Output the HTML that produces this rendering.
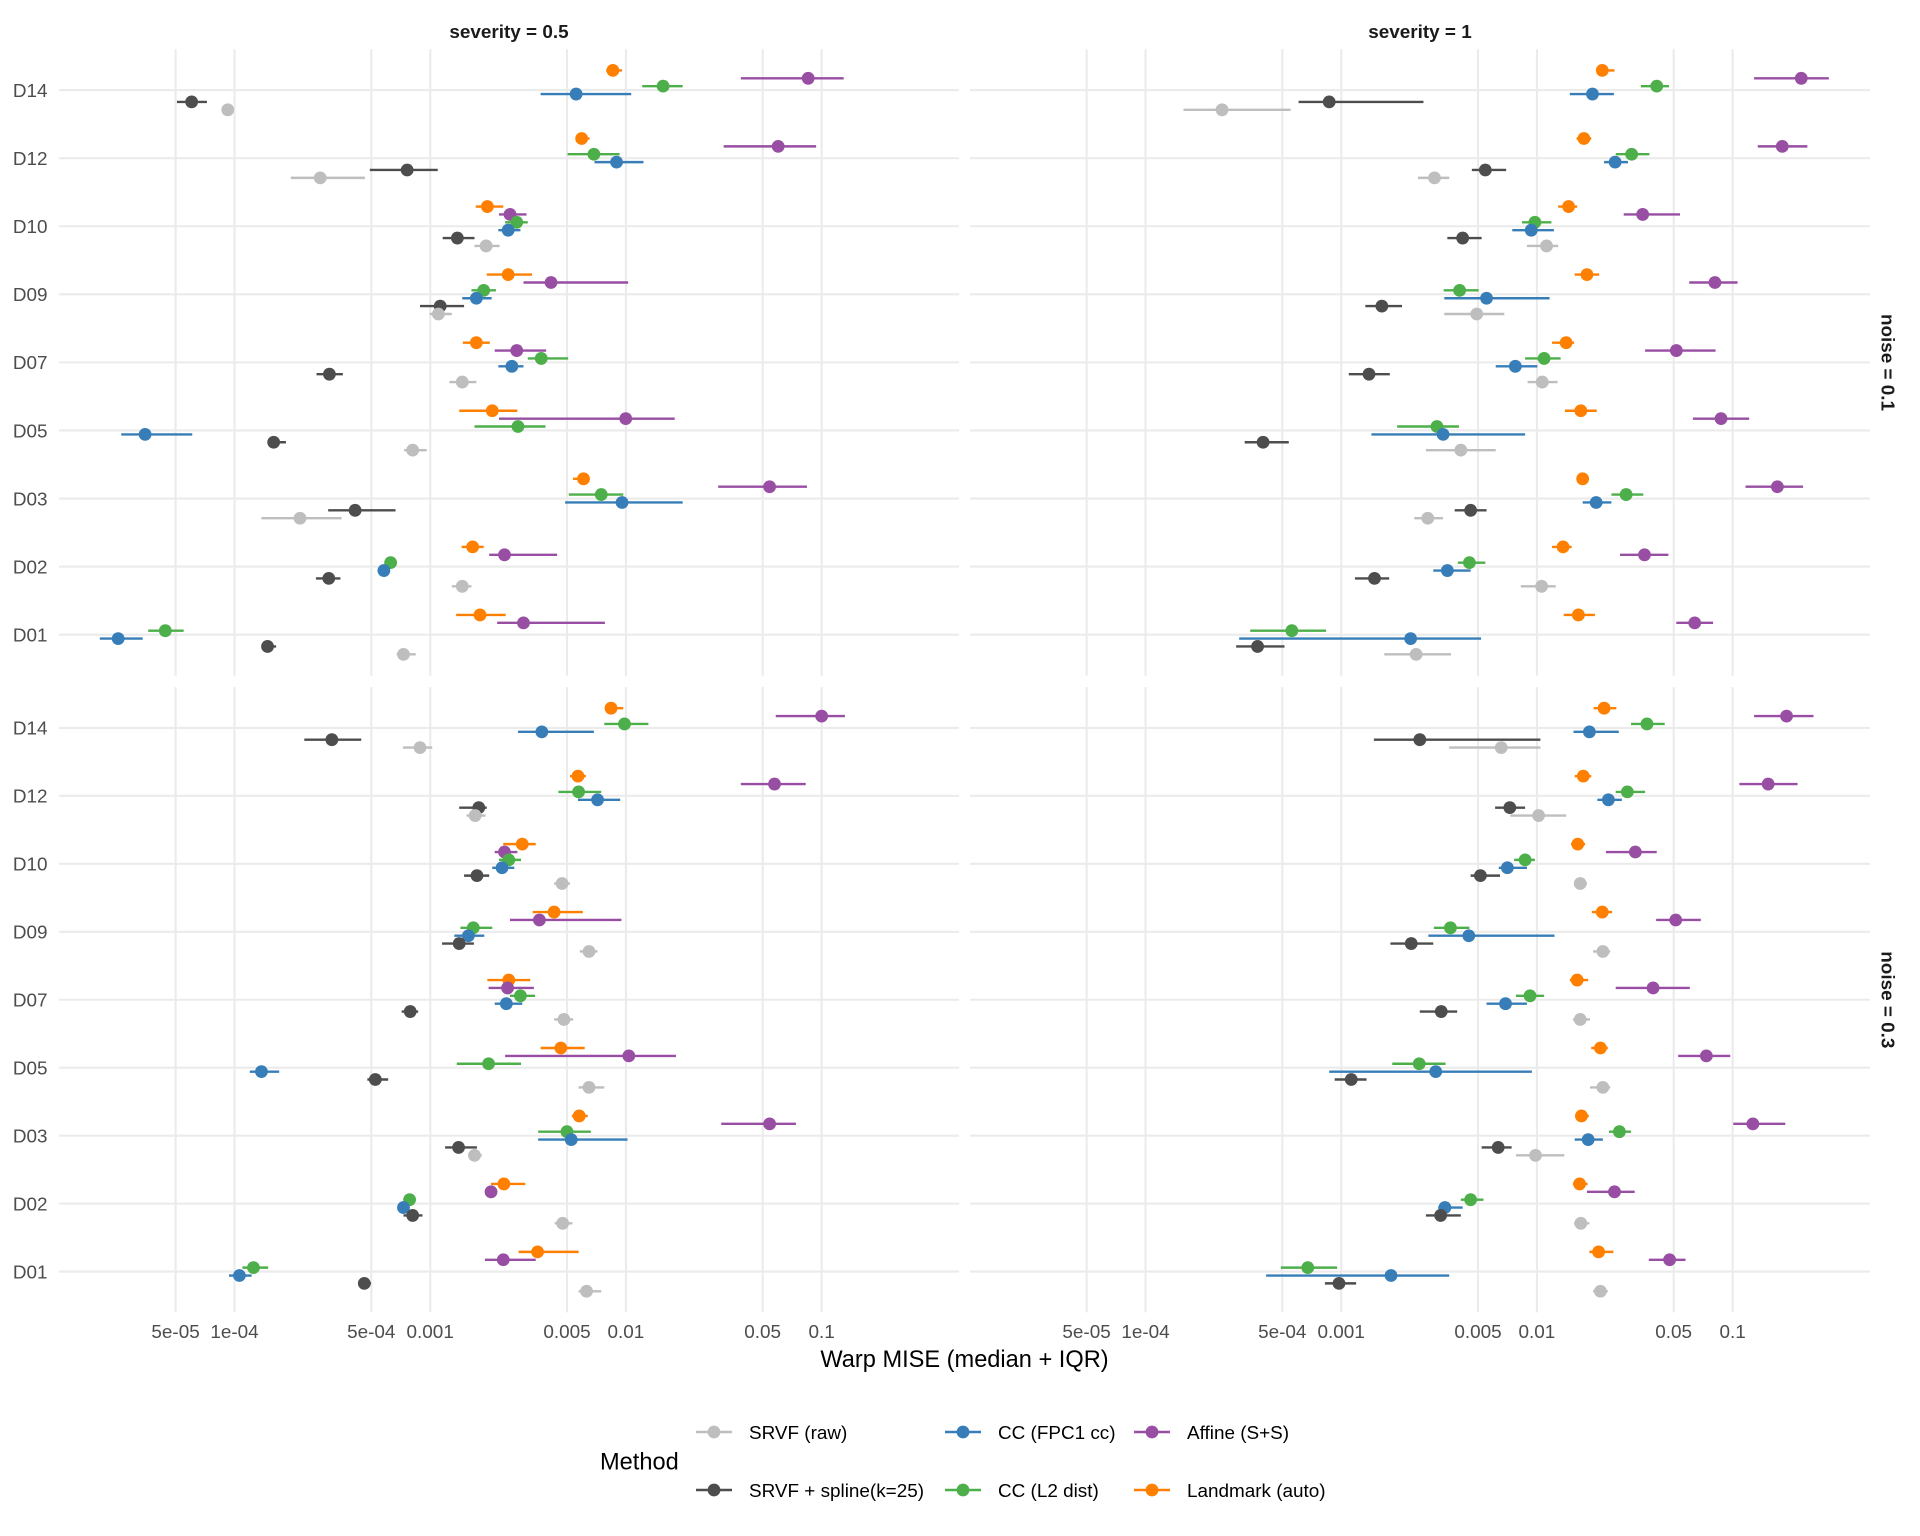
<!DOCTYPE html>
<html><head><meta charset="utf-8"><style>
html,body{margin:0;padding:0;background:#fff;}
svg{display:block;}
text{font-family:"Liberation Sans",Arial,sans-serif;}
.yl{font-size:18.9px;fill:#4D4D4D;text-anchor:end;}
.xl{font-size:18.9px;fill:#4D4D4D;text-anchor:middle;}
.st{font-size:18.9px;fill:#1A1A1A;font-weight:bold;text-anchor:middle;}
.lg{font-size:18.9px;fill:#000;}
</style></head><body>
<svg id="s" width="1920" height="1536" viewBox="0 0 1920 1536" xmlns="http://www.w3.org/2000/svg">
<rect width="1920" height="1536" fill="#fff"/>
<g id="grid"></g>
<g id="data"></g>
<!-- strips -->
<text class="st" x="509" y="38">severity = 0.5</text>
<text class="st" x="1420" y="38">severity = 1</text>
<text class="st" transform="translate(1888,362.5) rotate(90)" y="6.5">noise = 0.1</text>
<text class="st" transform="translate(1888,999.8) rotate(90)" y="6.5">noise = 0.3</text>
<!-- y labels top -->
<text class="yl" x="47.5" y="96.9">D14</text>
<text class="yl" x="47.5" y="165">D12</text>
<text class="yl" x="47.5" y="233">D10</text>
<text class="yl" x="47.5" y="301.1">D09</text>
<text class="yl" x="47.5" y="369.2">D07</text>
<text class="yl" x="47.5" y="437.3">D05</text>
<text class="yl" x="47.5" y="505.3">D03</text>
<text class="yl" x="47.5" y="573.4">D02</text>
<text class="yl" x="47.5" y="641.5">D01</text>
<!-- y labels bottom -->
<text class="yl" x="47.5" y="734.7">D14</text>
<text class="yl" x="47.5" y="802.6">D12</text>
<text class="yl" x="47.5" y="870.6">D10</text>
<text class="yl" x="47.5" y="938.5">D09</text>
<text class="yl" x="47.5" y="1006.5">D07</text>
<text class="yl" x="47.5" y="1074.5">D05</text>
<text class="yl" x="47.5" y="1142.4">D03</text>
<text class="yl" x="47.5" y="1210.4">D02</text>
<text class="yl" x="47.5" y="1278.4">D01</text>
<!-- x tick labels left -->
<text class="xl" x="175.6" y="1337.8">5e-05</text>
<text class="xl" x="234.5" y="1337.8">1e-04</text>
<text class="xl" x="371.3" y="1337.8">5e-04</text>
<text class="xl" x="430.2" y="1337.8">0.001</text>
<text class="xl" x="567" y="1337.8">0.005</text>
<text class="xl" x="625.9" y="1337.8">0.01</text>
<text class="xl" x="762.7" y="1337.8">0.05</text>
<text class="xl" x="821.6" y="1337.8">0.1</text>
<!-- x tick labels right -->
<text class="xl" x="1086.6" y="1337.8">5e-05</text>
<text class="xl" x="1145.5" y="1337.8">1e-04</text>
<text class="xl" x="1282.3" y="1337.8">5e-04</text>
<text class="xl" x="1341.2" y="1337.8">0.001</text>
<text class="xl" x="1478" y="1337.8">0.005</text>
<text class="xl" x="1536.9" y="1337.8">0.01</text>
<text class="xl" x="1673.7" y="1337.8">0.05</text>
<text class="xl" x="1732.6" y="1337.8">0.1</text>
<!-- axis title -->
<text x="964.5" y="1367" font-size="23.6" fill="#000" text-anchor="middle">Warp MISE (median + IQR)</text>
<!-- legend -->
<text x="600" y="1469.5" font-size="23.6" fill="#000">Method</text>
<g stroke-width="2.4">
<line x1="696" y1="1432" x2="732" y2="1432" stroke="#BEBEBE"/><circle cx="714" cy="1432" r="6.4" fill="#BEBEBE"/>
<line x1="945" y1="1432" x2="981" y2="1432" stroke="#377EB8"/><circle cx="963" cy="1432" r="6.4" fill="#377EB8"/>
<line x1="1134" y1="1432" x2="1170" y2="1432" stroke="#984EA3"/><circle cx="1152" cy="1432" r="6.4" fill="#984EA3"/>
<line x1="696" y1="1490" x2="732" y2="1490" stroke="#4D4D4D"/><circle cx="714" cy="1490" r="6.4" fill="#4D4D4D"/>
<line x1="945" y1="1490" x2="981" y2="1490" stroke="#4DAF4A"/><circle cx="963" cy="1490" r="6.4" fill="#4DAF4A"/>
<line x1="1134" y1="1490" x2="1170" y2="1490" stroke="#FF7F00"/><circle cx="1152" cy="1490" r="6.4" fill="#FF7F00"/>
</g>
<text class="lg" x="749" y="1438.8">SRVF (raw)</text>
<text class="lg" x="998" y="1438.8">CC (FPC1 cc)</text>
<text class="lg" x="1187" y="1438.8">Affine (S+S)</text>
<text class="lg" x="749" y="1496.8">SRVF + spline(k=25)</text>
<text class="lg" x="998" y="1496.8">CC (L2 dist)</text>
<text class="lg" x="1187" y="1496.8">Landmark (auto)</text>
</svg>
<script>
(function(){
var NS="http://www.w3.org/2000/svg";
var grid=document.getElementById('grid'), data=document.getElementById('data');
function el(p,tag,a){var e=document.createElementNS(NS,tag);for(var k in a)e.setAttribute(k,a[k]);p.appendChild(e);return e;}
var panels=[
 {x0:59,y0:49.3,y1:675.6,ly0:90.1,dy:68.07,off:0},
 {x0:970,y0:49.3,y1:675.6,ly0:90.1,dy:68.07,off:960},
 {x0:59,y0:687.1,y1:1312.4,ly0:727.9,dy:67.96,off:0},
 {x0:970,y0:687.1,y1:1312.4,ly0:727.9,dy:67.96,off:960}
];
var breaks=[5e-5,1e-4,5e-4,1e-3,5e-3,1e-2,5e-2,1e-1];
panels.forEach(function(p){
  for(var i=0;i<9;i++){var y=p.ly0+i*p.dy;el(grid,'line',{x1:p.x0,x2:p.x0+900,y1:y,y2:y,stroke:'#EBEBEB','stroke-width':2.1});}
  breaks.forEach(function(b){var x=p.x0+(Math.log10(b)+4.897)*195.7;el(grid,'line',{x1:x,x2:x,y1:p.y0,y2:p.y1,stroke:'#EBEBEB','stroke-width':2.1});});
});
var C=['#FF7F00','#984EA3','#4DAF4A','#377EB8','#4D4D4D','#BEBEBE'];
var OFF=[-19.7,-11.8,-3.95,3.95,11.8,19.7];
var D=[
[
 [[990,1001,1016],[1210,1320,1378],[1049,1083,1115],[883,941,1031],[289,313,338],[366,372,378]],
 [[940,950,963],[1182,1271,1333],[927,970,1012],[971,1007,1051],[604,665,715],[475,523,596]],
 [[777,796,822],[815,833,860],[825,844,862],[814,830,850],[723,747,775],[775,794,816]],
 [[795,830,869],[855,900,1026],[770,790,810],[755,778,803],[686,719,758],[702,716,738]],
 [[756,778,800],[808,844,892],[862,884,928],[814,836,855],[517,538,560],[734,755,778]],
 [[750,804,845],[815,1022,1102],[775,846,891],[198,237,314],[437,447,467],[660,674,697]],
 [[936,953,963],[1173,1257,1318],[929,982,1018],[923,1016,1115],[536,580,646],[427,490,558]],
 [[754,772,790],[799,824,910],[630,638,646],[618,627,636],[516,537,556],[738,755,770]],
 [[745,784,826],[812,855,988],[242,270,300],[163,193,233],[427,437,451],[648,659,679]]
],
[
 [[1039,1049,1069],[1297,1374,1419],[1112,1138,1158],[996,1033,1068],[553,603,757],[365,428,540]],
 [[1007,1019,1031],[1303,1343,1384],[1071,1097,1126],[1052,1070,1091],[836,858,892],[748,775,799]],
 [[977,994,1008],[1084,1115,1176],[918,939,966],[902,933,970],[796,821,852],[926,958,977]],
 [[1004,1024,1044],[1191,1233,1270],[790,816,847],[791,860,963],[662,689,722],[791,844,889]],
 [[967,990,1003],[1119,1170,1234],[923,954,981],[875,907,943],[635,668,702],[927,951,976]],
 [[988,1014,1040],[1197,1243,1289],[714,779,815],[672,789,923],[465,495,537],[761,818,875]],
 [[1008,1017,1027],[1283,1335,1377],[1064,1088,1116],[1017,1039,1064],[808,834,860],[742,764,789]],
 [[967,985,999],[1078,1118,1157],[813,832,858],[773,796,834],[645,677,701],[916,950,973]],
 [[986,1010,1037],[1170,1200,1230],[474,542,598],[456,736,851],[451,486,530],[693,745,802]]
],
[
 [[988,998,1018],[1267,1342,1380],[987,1020,1059],[846,885,970],[497,542,590],[658,686,706]],
 [[931,944,957],[1210,1265,1316],[912,945,982],[944,976,1013],[750,782,795],[762,776,793]],
 [[822,853,875],[808,824,845],[815,831,851],[804,820,840],[758,779,799],[905,918,931]],
 [[870,905,952],[833,881,1015],[752,773,804],[742,765,791],[722,750,774],[947,962,976]],
 [[796,831,866],[798,829,872],[833,850,874],[808,827,853],[656,670,683],[905,921,936]],
 [[883,916,955],[825,1027,1104],[746,798,851],[408,427,456],[600,613,634],[945,962,987]],
 [[934,946,960],[1178,1257,1300],[879,926,965],[879,933,1025],[727,749,779],[765,775,787]],
 [[802,823,858],[793,802,812],[661,669,678],[650,659,669],[659,674,690],[906,919,935]],
 [[847,878,945],[792,822,875],[396,414,438],[374,391,411],[586,595,606],[945,958,982]]
],
[
 [[1035,1052,1072],[1297,1350,1394],[1096,1122,1151],[1002,1028,1076],[676,751,948],[799,884,948]],
 [[1004,1018,1031],[1273,1320,1368],[1071,1090,1119],[1041,1059,1081],[874,898,923],[899,945,990]],
 [[998,1009,1021],[1055,1103,1138],[905,923,939],[880,894,926],[834,850,882],[1003,1013,1024]],
 [[1032,1049,1065],[1137,1169,1210],[774,801,832],[765,831,971],[703,737,773],[1034,1050,1062]],
 [[996,1008,1026],[1071,1132,1192],[908,931,954],[860,891,926],[751,786,812],[1001,1013,1029]],
 [[1031,1046,1058],[1173,1219,1258],[706,750,793],[603,777,934],[612,639,664],[1029,1050,1062]],
 [[1005,1015,1027],[1263,1295,1348],[1060,1077,1096],[1004,1026,1050],[852,879,901],[908,940,987]],
 [[1001,1012,1025],[1024,1069,1102],[818,834,855],[781,792,821],[761,785,818],[1003,1014,1028]],
 [[1028,1043,1067],[1125,1159,1185],[524,568,616],[500,704,799],[596,619,647],[1034,1046,1058]]
]
];
var S=1.6333;
D.forEach(function(pd,pi){
  var p=panels[pi];
  pd.forEach(function(row,ri){
    var yc=p.ly0+ri*p.dy;
    row.forEach(function(v,mi){
      var y=yc+OFF[mi];
      var lo=p.off+v[0]/S, md=p.off+v[1]/S, hi=p.off+v[2]/S;
      el(data,'line',{x1:lo,x2:hi,y1:y,y2:y,stroke:C[mi],'stroke-width':2.4});
      el(data,'circle',{cx:md,cy:y,r:6.4,fill:C[mi]});
    });
  });
});
})();
</script>
</body></html>
